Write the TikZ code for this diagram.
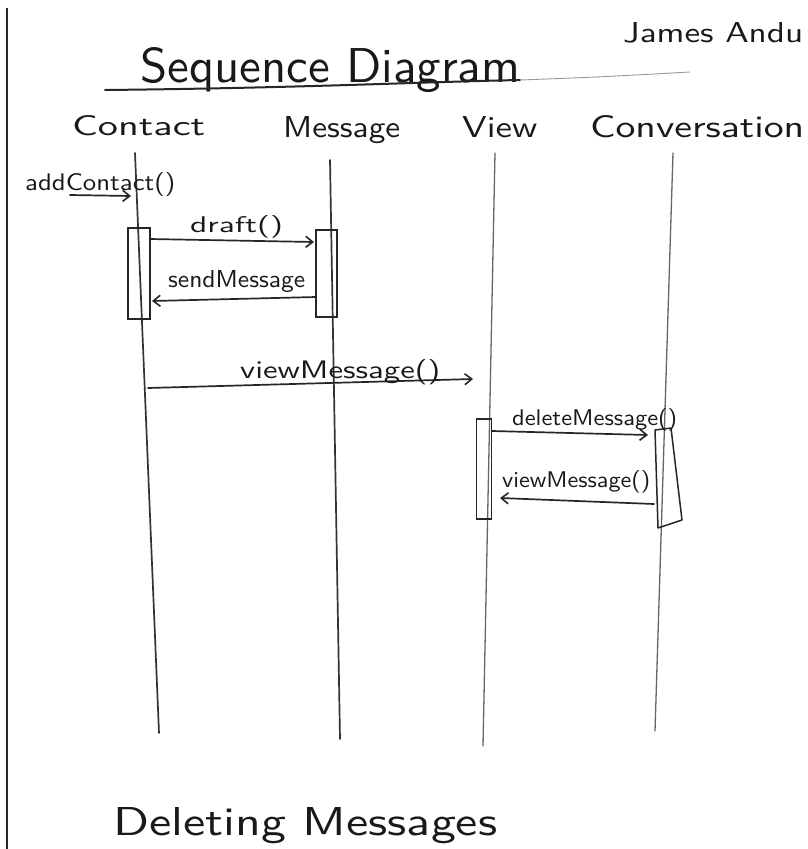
\documentclass[tikz,border=0pt]{standalone}
\usetikzlibrary{arrows.meta}
% text squeezed or stretched into a box of given width and height (pt)
\newcommand\handtext[3]{\resizebox{#1pt}{#2pt}{#3}}
\begin{document}
\begin{tikzpicture}[x=1pt,y=-1pt,
  ink/.style={line width=1.7pt, black!85, line cap=round, line join=round},
  lifeline/.style={line width=1.7pt, black!80, line cap=round},
  pencil/.style={line width=1.3pt, black!60, line cap=round},
  act/.style={draw=black!85, line width=1.6pt, inner sep=0pt},
  msg/.style={ink, -{Straight Barb[length=7pt,width=11pt,line width=1.6pt]}},
  hand/.style={inner sep=0pt, anchor=base west, font=\sffamily, text=black!90},
]
\useasboundingbox (0,0) rectangle (808,849);
\clip (0,0) rectangle (808,849);
\fill[white] (0,0) rectangle (808,849);

% page edge on the left
\coordinate (edgeT) at (7,8);
\coordinate (edgeB) at (7,849);
\draw[line width=1.5pt, black!85] (edgeT) -- (edgeB);

% heading, author and underline
\node[hand] (title) at (140,82) {\handtext{380}{35}{Sequence Diagram}};
\node[hand] (author) at (623,42) {\handtext{180}{20}{James Andu}};
\draw[ink, line width=2pt] (105,90) .. controls (300,88) and (420,82) .. (520,80);
\draw[line width=0.9pt, black!40] (520,80) .. controls (600,77) .. (690,72);

% participants
\node[hand] (hContact) at (72,135) {\handtext{133}{20}{Contact}};
\node[hand] (hMessage) at (283,137) {\handtext{117}{21}{Message}};
\node[hand] (hView) at (462,137) {\handtext{75}{21}{View}};
\node[hand] (hConv) at (590,137) {\handtext{214}{22}{Conversation}};

% lifelines
\coordinate (cT) at (135,153); \coordinate (cB) at (159,733);
\coordinate (mT) at (330,160); \coordinate (mB) at (340,739);
\coordinate (vT) at (495,153); \coordinate (vB) at (483,746);
\coordinate (kT) at (673,153); \coordinate (kB) at (655,731);
\draw[lifeline] (cT) -- (cB);
\draw[lifeline] (mT) -- (mB);
\draw[pencil] (vT) -- (vB);
\draw[pencil] (kT) -- (kB);

% activation bars
\node[act, minimum width=22pt, minimum height=91pt] (actC) at (139,273.5) {};
\node[act, minimum width=21pt, minimum height=87pt] (actM) at (326.5,273.5) {};
\node[act, minimum width=15pt, minimum height=100pt] (actV) at (484,469) {};
\coordinate (k1) at (655,430); \coordinate (k2) at (671,428);
\coordinate (k3) at (682,520); \coordinate (k4) at (658,528);
\draw[ink, line width=1.5pt] (k1) -- (k2) -- (k3) -- (k4) -- cycle;

% messages
\coordinate (addS) at (70,195); \coordinate (addE) at (131,196);
\draw[msg] (addS) -- (addE);
\node[hand] (lAdd) at (25,190) {\handtext{150}{18}{addContact()}};

\coordinate (d1) at (150,239); \coordinate (d2) at (314,242);
\draw[msg] (d1) -- (d2);
\node[hand] (lDraft) at (190,232) {\handtext{93}{17}{draft()}};

\coordinate (s1) at (316,297); \coordinate (s2) at (152,301);
\draw[msg] (s1) -- (s2);
\node[hand] (lSend) at (168,287) {\handtext{137}{17}{sendMessage}};

\coordinate (v1) at (148,388); \coordinate (v2) at (473,379);
\draw[msg] (v1) -- (v2);
\node[hand] (lView) at (240,378) {\handtext{200}{19}{viewMessage()}};

\coordinate (x1) at (492,431); \coordinate (x2) at (648,435);
\draw[msg] (x1) -- (x2);
\node[hand] (lDel) at (512,425) {\handtext{165}{17}{deleteMessage()}};

\coordinate (r1) at (654,504); \coordinate (r2) at (500,498);
\draw[msg] (r1) -- (r2);
\node[hand] (lBack) at (502,487) {\handtext{148}{17}{viewMessage()}};

% caption
\node[hand] (caption) at (113,835) {\handtext{384}{28}{Deleting Messages}};
\end{tikzpicture}
\end{document}
